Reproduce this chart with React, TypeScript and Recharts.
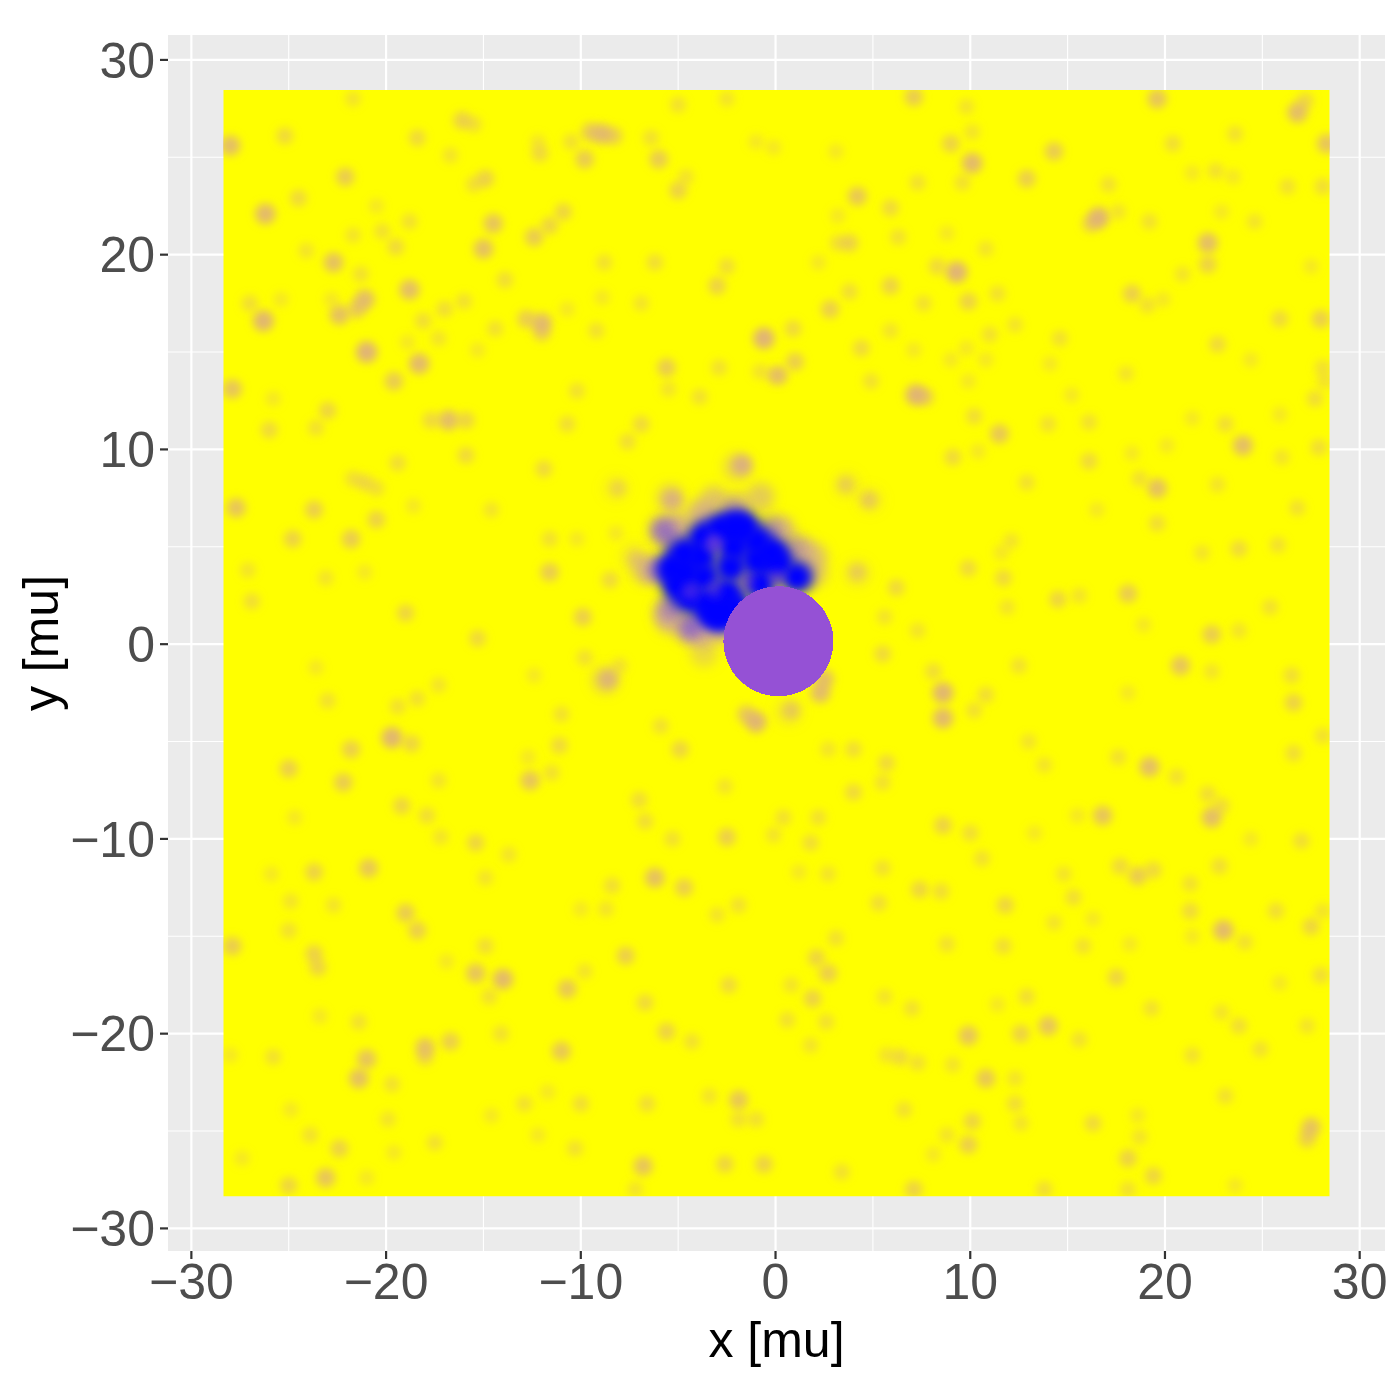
import { ScatterChart, Scatter, XAxis, YAxis, CartesianGrid, ReferenceArea } from 'recharts';

type Spot = [number, number, number];

const majorTicks = [-30, -20, -10, 0, 10, 20, 30];
const minorTicks = [-25, -15, -5, 5, 15, 25];

// x [mu], y [mu], strength
const spotsNorthWest: Spot[] = [
    [-28, 25.6, 0.8], [-8.9, 26.2, 0.8], [-9.5, 26.3, 0.6], [-8.3, 26.1, 0.5], [-16.1, 26.9, 0.5], [-15.5, 26.7, 0.3],
    [-21.7, 28, 0.25], [-25.2, 26.1, 0.4], [-18.4, 26, 0.4], [-12.1, 25.2, 0.4], [-12.2, 25.8, 0.2], [-9.8, 24.9, 0.6],
    [-10.5, 25.8, 0.3], [-6, 24.9, 0.6], [-6.4, 26, 0.3], [-16.7, 25.1, 0.25], [-22.1, 24, 0.6], [-14.9, 23.9, 0.5],
    [-15.5, 23.6, 0.3], [-5, 23.3, 0.5], [-4.6, 24, 0.25], [-2.5, 28, 0.25], [-5, 27.7, 0.3], [-1, 25.8, 0.2],
    [-0.1, 25.5, 0.2], [-24.5, 22.9, 0.4], [-26.2, 22.1, 0.85], [-20.5, 22.5, 0.2], [-18.8, 21.7, 0.3], [-14.5, 21.6, 0.7],
    [-10.9, 22.2, 0.45], [-11.6, 21.5, 0.45], [-12.4, 20.9, 0.6], [-20.2, 21.2, 0.3], [-19.5, 20.4, 0.4], [-21.7, 21, 0.25],
    [-15, 20.3, 0.75], [-24.1, 20.2, 0.25], [-22.7, 19.6, 0.75], [-21.3, 19, 0.3], [-21.1, 17.7, 0.8], [-21.5, 17.2, 0.6],
    [-22.4, 16.9, 0.75], [-22.8, 17.7, 0.2], [-18.8, 18.2, 0.8], [-13.9, 18.7, 0.35], [-8.8, 19.6, 0.3], [-6.2, 19.6, 0.35],
    [-2.5, 19.4, 0.35], [-3, 18.4, 0.5], [-6.9, 17.5, 0.25], [-8.9, 17.8, 0.2], [-10.7, 17.2, 0.2], [-16, 17.6, 0.3],
    [-17, 17.2, 0.35], [-18.1, 16.6, 0.35], [-17.3, 15.7, 0.25], [-26.3, 16.6, 0.9], [-27, 17.5, 0.35], [-25.4, 17.7, 0.2],
    [-12.8, 16.7, 0.55], [-12, 16.5, 0.8], [-12, 16, 0.5], [-14.4, 16.2, 0.3], [-9.2, 16.1, 0.3], [-0.6, 15.7, 0.95],
    [0, 13.8, 0.5], [-0.8, 14, 0.25], [-5.6, 14.2, 0.6], [-5.5, 13.1, 0.25], [-2.9, 14.2, 0.3], [-21, 15, 0.95],
    [-18.3, 14.4, 0.85], [-18.9, 15.5, 0.2], [-15.3, 15.1, 0.2], [-19.6, 13.5, 0.6], [-27.9, 13.1, 0.7], [-25.8, 12.6, 0.2],
    [-10.2, 13, 0.3], [-3.9, 12.7, 0.3], [-23, 12, 0.45], [-23.6, 11.1, 0.3], [-26, 11, 0.4], [-16.8, 11.5, 0.8],
    [-15.9, 11.5, 0.45], [-17.7, 11.5, 0.4], [-10.7, 11.3, 0.35], [-6.9, 11.3, 0.4], [-7.6, 10.4, 0.35], [-15.9, 9.7, 0.4],
    [-19.4, 9.3, 0.35], [-11.9, 9, 0.4], [-1.7, 9.2, 0.8], [-21.1, 8.3, 0.4], [-21.7, 8.5, 0.3], [-20.5, 8, 0.3],
    [-8.1, 8, 0.35], [-5.3, 7.4, 0.7], [-27.7, 7, 0.7], [-23.7, 6.9, 0.55], [-20.5, 6.4, 0.5], [-18.6, 7.1, 0.2],
    [-14.6, 6.9, 0.25], [-24.8, 5.4, 0.5], [-21.8, 5.4, 0.6], [-11.6, 5.4, 0.3], [-10.2, 5.4, 0.2], [-27.1, 3.8, 0.25],
    [-23.1, 3.4, 0.25], [-21.1, 3.7, 0.2], [-11.6, 3.7, 0.6], [-8.5, 3.3, 0.4], [-26.9, 2.2, 0.35], [-19, 1.6, 0.45],
    [-9.9, 1.4, 0.55], [-15.3, 0.3, 0.4], [-8.2, 5.7, 0.2], [-7.2, 4.4, 0.35],
];

const spotsNorthEast: Spot[] = [
    [7.1, 28.1, 0.6], [19.6, 28, 0.7], [26.8, 27.3, 0.8], [27.2, 27.9, 0.4], [9.8, 27.6, 0.25], [9, 25.7, 0.5],
    [10.1, 26.3, 0.25], [28.3, 25.7, 0.7], [14.3, 25.3, 0.6], [20.4, 25.7, 0.35], [23.6, 26.2, 0.3], [3.1, 25.3, 0.2],
    [10.1, 24.7, 0.85], [9.6, 23.7, 0.3], [12.9, 23.9, 0.55], [7.3, 23.7, 0.3], [4.2, 23, 0.65], [17.1, 23.6, 0.3],
    [22.6, 24.3, 0.3], [21.4, 24.2, 0.2], [23.5, 24, 0.2], [26.3, 23.5, 0.3], [28.1, 23.5, 0.35], [5.9, 22.4, 0.4],
    [16.6, 21.9, 0.9], [17.6, 22.2, 0.25], [16.2, 21.6, 0.5], [19.2, 21.7, 0.3], [22.9, 22.2, 0.2], [24.6, 21.7, 0.25],
    [3.2, 22, 0.2], [3.8, 20.6, 0.5], [3.2, 20.6, 0.3], [6.3, 20.9, 0.3], [8.8, 21.1, 0.2], [10.8, 20.3, 0.25],
    [2.2, 19.6, 0.2], [9.3, 19.1, 0.95], [8.3, 19.4, 0.4], [22.2, 20.6, 0.8], [22.2, 19.5, 0.5], [27.5, 19.4, 0.2],
    [20.9, 19, 0.25], [5.9, 18.4, 0.5], [3.8, 18.1, 0.35], [9.9, 17.6, 0.5], [11.4, 18, 0.3], [18.3, 18, 0.55],
    [19.1, 17.4, 0.3], [19.9, 17.7, 0.2], [2.8, 17.2, 0.55], [7.6, 17.5, 0.3], [0.9, 16.2, 0.4], [5.9, 16.1, 0.25],
    [11, 15.9, 0.3], [12.3, 16.4, 0.25], [25.9, 16.7, 0.4], [28, 16.7, 0.55], [4.4, 15.2, 0.4], [7.1, 15.1, 0.2],
    [14.6, 15.7, 0.3], [22.7, 15.4, 0.4], [1, 14.5, 0.55], [0.2, 13.8, 0.5], [9.8, 15.2, 0.2], [9, 14.6, 0.2],
    [10.8, 14.6, 0.2], [14.1, 14.4, 0.2], [4.9, 13.5, 0.3], [18, 13.9, 0.25], [28.1, 14.2, 0.3], [27.7, 12.6, 0.35],
    [28.2, 13.5, 0.25], [24.4, 14.6, 0.2], [7.2, 12.8, 0.9], [7.7, 12.7, 0.5], [9.9, 13.5, 0.2], [15.2, 12.8, 0.2],
    [10.2, 11.7, 0.35], [25.9, 11.8, 0.2], [14, 11.3, 0.3], [16.1, 11.4, 0.3], [11.5, 10.8, 0.65], [23.1, 11.3, 0.35],
    [24, 10.2, 0.8], [21.4, 11.6, 0.2], [27.9, 10.1, 0.35], [26, 9.6, 0.25], [9.1, 9.6, 0.4], [10.4, 9.9, 0.2],
    [16.1, 9.4, 0.4], [20.1, 10.2, 0.2], [18.3, 9.8, 0.2], [12.9, 8.3, 0.3], [3.6, 8.2, 0.4], [19.6, 8, 0.75],
    [18.7, 8.5, 0.3], [22.7, 8.2, 0.25], [4.8, 7.4, 0.5], [19.6, 6.2, 0.35], [26.8, 7, 0.3], [16.5, 6.9, 0.2],
    [12.1, 5.3, 0.25], [11.6, 4.7, 0.2], [23.8, 4.9, 0.4], [25.8, 5.1, 0.3], [21.9, 4.7, 0.25], [9.9, 3.9, 0.4],
    [4.2, 3.7, 0.4], [11.7, 3.4, 0.4], [6.2, 2.9, 0.4], [18.1, 2.6, 0.6], [14.5, 2.3, 0.45], [15.6, 2.5, 0.25],
    [11.9, 1.9, 0.25], [22.4, 0.5, 0.6], [23.8, 0.7, 0.25], [5.6, 1.4, 0.25], [7.3, 0.7, 0.25], [25.4, 1.9, 0.3],
    [18.9, 1, 0.2],
];

const spotsSouthWest: Spot[] = [
    [-9.8, -0.7, 0.3], [-8.6, -1.8, 0.65], [-8, -1.1, 0.25], [-11, -3.6, 0.3], [-12.4, -1.6, 0.2], [-1, -4, 0.9],
    [-1.5, -3.6, 0.6], [-5.9, -4.2, 0.3], [-4.9, -5.4, 0.45], [-23, -2.9, 0.3], [-18.4, -2.8, 0.3], [-17.3, -2.1, 0.25],
    [-19.4, -3.2, 0.3], [-23.6, -1.2, 0.2], [-19.7, -4.8, 0.9], [-18.7, -5.1, 0.45], [-21.8, -5.4, 0.55], [-11.1, -5.2, 0.4],
    [-25, -6.4, 0.55], [-22.2, -7.1, 0.6], [-12.6, -7, 0.7], [-11.5, -6.6, 0.3], [-12.7, -5.8, 0.2], [-17.3, -7, 0.25],
    [-2.6, -7.3, 0.25], [-7, -8, 0.35], [-6.7, -9.1, 0.35], [-19.2, -8.3, 0.45], [-17.9, -8.8, 0.35], [-24.7, -8.9, 0.2],
    [-2.5, -9.9, 0.55], [-0.1, -9.8, 0.25], [-15.4, -10.2, 0.45], [-17.2, -9.9, 0.25], [-13.7, -10.8, 0.25], [-5.3, -10, 0.3],
    [-20.9, -11.5, 0.65], [-23.7, -11.7, 0.5], [-25.9, -11.8, 0.2], [-6.2, -12, 0.75], [-4.7, -12.5, 0.55], [-8.4, -12.4, 0.35],
    [-14.9, -12, 0.25], [-1.9, -13.4, 0.3], [-3, -13.9, 0.25], [-19, -13.8, 0.6], [-18.4, -14.7, 0.55], [-24.9, -13.2, 0.25],
    [-22.7, -13.4, 0.25], [-25, -14.7, 0.3], [-27.9, -15.5, 0.6], [-10, -13.6, 0.2], [-8.7, -13.6, 0.25], [-23.7, -15.9, 0.5],
    [-23.5, -16.6, 0.45], [-14.9, -15.5, 0.35], [-7.7, -16, 0.55], [-16.9, -16.3, 0.2], [-15.4, -16.9, 0.7], [-14, -17.2, 0.85],
    [-14.7, -18.1, 0.3], [-10.7, -17.7, 0.65], [-2.4, -17.5, 0.4], [-9.8, -16.8, 0.25], [-6.7, -18.4, 0.4], [-5.6, -19.9, 0.5],
    [-4.3, -20.4, 0.3], [-23.4, -19.1, 0.2], [-21.4, -19.4, 0.3], [-14.1, -20, 0.3], [-18, -20.7, 0.7], [-18, -21.2, 0.4],
    [-16.7, -20.4, 0.55], [-11, -20.9, 0.65], [-21, -21.3, 0.7], [-21.4, -22.3, 0.75], [-25.8, -21.2, 0.3], [-19.7, -22.6, 0.3],
    [-28, -21.1, 0.2], [-1.9, -23.4, 0.65], [-1.9, -24.4, 0.3], [-1, -24.4, 0.3], [-10, -23.6, 0.35], [-6.6, -23.6, 0.35],
    [-12.9, -23.6, 0.3], [-11.7, -23, 0.2], [-3.4, -23.2, 0.25], [-24.9, -23.9, 0.2], [-19.9, -24.4, 0.25], [-14.6, -24.2, 0.2],
    [-22.4, -25.9, 0.5], [-23.9, -25.2, 0.3], [-17.5, -25.6, 0.3], [-12.2, -25.2, 0.2], [-6.8, -26.8, 0.7], [-7.2, -28, 0.25],
    [-10.3, -25.9, 0.3], [-2.6, -26.7, 0.45], [-0.6, -26.7, 0.5], [-23.1, -27.4, 0.7], [-25, -27.8, 0.45], [-27.4, -26.4, 0.2],
    [-21, -27.4, 0.2], [-19.6, -26.1, 0.2],
];

const spotsSouthEast: Spot[] = [
    [2.3, -2.5, 0.8], [2.5, -1.8, 0.75], [0.8, -3.4, 0.45], [5.5, -0.5, 0.4], [8.6, -2.5, 0.9], [8.6, -3.8, 0.85],
    [8.1, -1.4, 0.35], [10.8, -2.6, 0.35], [10.2, -3.4, 0.3], [12.5, -1.1, 0.3], [20.8, -1.1, 0.7], [26.5, -1.6, 0.35],
    [26.6, -3, 0.5], [22.4, -1.4, 0.25], [18.1, -2.5, 0.2], [4, -5.4, 0.35], [2.7, -5.4, 0.25], [5.7, -6.1, 0.4],
    [19.2, -6.3, 0.8], [17.6, -5.8, 0.3], [20.6, -6.8, 0.3], [26.6, -5.6, 0.35], [28.1, -4.7, 0.3], [4, -7.6, 0.4],
    [5.5, -7.1, 0.3], [13.8, -6.2, 0.25], [13, -5, 0.25], [2.2, -8.9, 0.3], [0.4, -8.9, 0.3], [16.8, -8.8, 0.7],
    [15.5, -8.8, 0.2], [22.4, -8.9, 0.8], [22.2, -7.7, 0.35], [22.9, -8.3, 0.35], [8.6, -9.3, 0.5], [10, -9.7, 0.35],
    [10.6, -11, 0.3], [1.8, -10.2, 0.35], [27, -10.1, 0.35], [24.4, -10, 0.2], [13.3, -9.7, 0.2], [17.7, -11.4, 0.4],
    [18.6, -11.9, 0.6], [19.4, -11.6, 0.4], [22.8, -11.4, 0.35], [21.3, -12.3, 0.3], [21.3, -13.7, 0.4], [21.4, -15, 0.2],
    [5.5, -11.5, 0.3], [2.7, -11.8, 0.25], [1.2, -11.7, 0.2], [7.4, -12.6, 0.45], [8.5, -12.7, 0.35], [14.8, -11.8, 0.25],
    [11.8, -13.4, 0.45], [15.3, -13, 0.35], [5.3, -13.3, 0.35], [25.7, -13.7, 0.35], [23, -14.7, 0.85], [24.1, -15.3, 0.3],
    [27.5, -14.5, 0.45], [28.1, -13.7, 0.25], [14.3, -14.3, 0.25], [16.3, -14.1, 0.2], [3.1, -15.1, 0.3], [8.8, -15.4, 0.3],
    [11.7, -15.5, 0.35], [15.8, -15.5, 0.3], [18.2, -15.4, 0.2], [2.1, -16.1, 0.45], [2.7, -16.9, 0.55], [17.5, -17.1, 0.45],
    [28, -17, 0.35], [25.9, -17.4, 0.2], [1.9, -18.2, 0.5], [0.8, -17.5, 0.25], [5.6, -18.1, 0.25], [12.9, -18.1, 0.35],
    [7, -18.7, 0.3], [11.4, -18.5, 0.2], [19.3, -18.7, 0.3], [22.9, -18.9, 0.25], [0.6, -19.3, 0.3], [2.6, -19.4, 0.3],
    [14, -19.6, 0.7], [12.6, -20, 0.5], [9.9, -20.1, 0.7], [15.6, -20.3, 0.3], [23.8, -19.6, 0.35], [27.3, -19.6, 0.25],
    [24.9, -20.8, 0.3], [1.8, -20.6, 0.25], [6.4, -21.2, 0.4], [7.3, -21.5, 0.3], [5.7, -21.1, 0.25], [21.4, -21.1, 0.3],
    [9.1, -21.6, 0.25], [10.8, -22.3, 0.65], [12.3, -22.3, 0.25], [12.3, -23.6, 0.35], [23.1, -23.2, 0.3], [6.6, -23.9, 0.3],
    [10.1, -24.5, 0.45], [8.8, -25.2, 0.25], [9.9, -25.7, 0.55], [16.3, -24.6, 0.4], [18.7, -25.3, 0.25], [27.5, -24.8, 0.7],
    [27.3, -25.4, 0.5], [18.6, -24.2, 0.2], [12.6, -24.6, 0.25], [18.1, -26.4, 0.5], [19.4, -27.3, 0.45], [8.1, -26.2, 0.2],
    [3.4, -27.1, 0.3], [7.1, -28, 0.5], [13.8, -28, 0.35], [18.1, -28, 0.3], [23.6, -27.8, 0.2],
];

const haloSpots: Spot[] = [
    [-5.75, 5.85, 0.8], [-4.37, 0.72, 0.85], [-5.56, 1.6, 0.7], [-6.34, 3.8, 0.7], [-3.17, 7.4, 0.55], [-0.77, 7.57, 0.5],
    [-1.97, 7.06, 0.55], [-5.4, 7.5, 0.45], [-1.97, 9.1, 0.4], [1.28, 4.83, 0.65], [1.97, 4.5, 0.55], [1.97, 3.63, 0.5],
    [-3.68, 0.55, 0.65], [-3.68, -0.47, 0.35], [-7.28, 4.5, 0.2], [-6.76, 3.8, 0.35], [-5, 6.03, 0.7], [-3.85, 6.7, 0.7],
    [0.26, 5.86, 0.7], [-5.4, 1.2, 0.55], [-3, 1, 0.6], [-2.5, 0.7, 0.55], [-8.73, -1.85, 0.4], [4.88, 7.4, 0.12],
    [3.68, 8.17, 0.15], [-8.2, 8, 0.12], [0.69, -3.47, 0.2], [4.2, 3.63, 0.2],
];

const purpleSpots: Spot[] = [
    [-5.75, 5.85, 0.55], [-4.37, 0.9, 0.6], [-5.4, 1.9, 0.4], [-5.9, 3.8, 0.55], [-5.3, 5.1, 0.4], [-3.4, 1.4, 0.4],
    [0.9, 5, 0.3], [-0.3, 6, 0.35], [-2.2, 6.85, 0.35],
];

const coreSpots: Spot[] = [
    [-5.3, 3.9, 1], [-5, 3, 1], [-4.7, 4.65, 1], [-4.7, 3.65, 1], [-4.4, 2.4, 1], [-3.7, 5.5, 1], [-3.85, 4.5, 1],
    [-3.7, 3.45, 1], [-3.5, 2.1, 1], [-2.85, 5.9, 1], [-2.15, 6, 1], [-1.65, 6, 1], [-2.15, 5, 1], [-2.3, 3.95, 1],
    [-0.95, 5.3, 1], [-0.95, 4.3, 1], [-0.2, 4.7, 1], [0.1, 4.15, 1], [1.1, 3.45, 1], [-2.5, 2.6, 1], [-2.75, 1.5, 1],
    [-2.15, 1.9, 1], [-0.8, 3.1, 1], [-3.15, 1.6, 1],
];

const holeSpots: Spot[] = [
    [-3.17, 5.2, 0.65], [-4.37, 2.7, 0.45], [-3.17, 2.8, 0.3], [-1.45, 3.2, 0.35], [0.08, 3.4, 0.4],
];

const maskCentre = [{ x: 0.15, y: 0.15 }];

const toRows = (spots: Spot[]) => spots.map(([x, y, z]) => ({ x, y, z }));

const fieldSpots = [...spotsNorthWest, ...spotsNorthEast, ...spotsSouthWest, ...spotsSouthEast];

const fontFamily = '"Liberation Sans", Arial, sans-serif';

// soft round blob, clipped to the raster
const blurred = (fill: string, r: number, gain: number, blur: string, base: number, slope: number) => (props: any) => {
    const { cx, cy, payload } = props;
    return (
        <g clipPath="url(#fieldClip)">
            <circle cx={cx} cy={cy} r={r + gain * payload.z} fill={fill} fillOpacity={Math.min(1, base + slope * payload.z)} filter={blur} />
        </g>
    );
};

const MaskDot = (props: any) => (
    <circle cx={props.cx} cy={props.cy} r={55} fill="#9551D5" shapeRendering="crispEdges" />
);

const YTitle = ({ viewBox }: any) => {
    const cx = viewBox.x + 3;
    const cy = viewBox.y + viewBox.height / 2;
    return (
        <text x={cx} y={cy} transform={`rotate(-90 ${cx} ${cy})`} textAnchor="middle" dominantBaseline="central" fill="#000000" fontSize={50} fontFamily={fontFamily}>
            y [mu]
        </text>
    );
};

export default function App() {
    return (
        <div style={{ position: 'absolute', left: 0, top: 0, width: 1400, height: 1400, background: '#fff' }}>
            <ScatterChart width={1400} height={1400} margin={{ top: 35, right: 15, bottom: 30, left: 38 }}>
                <defs>
                    <filter id="softSpot" x="-150%" y="-150%" width="400%" height="400%">
                        <feGaussianBlur stdDeviation="4.4" />
                    </filter>
                    <filter id="softCore" x="-150%" y="-150%" width="400%" height="400%">
                        <feGaussianBlur stdDeviation="6" />
                    </filter>
                    <clipPath id="fieldClip">
                        <rect x={223} y={90} width={1107} height={1106} />
                    </clipPath>
                </defs>
                <CartesianGrid
                    fill="#EBEBEB"
                    stroke="#FFFFFF"
                    strokeWidth={1.1}
                    verticalValues={minorTicks}
                    horizontalValues={minorTicks}
                />
                <CartesianGrid
                    stroke="#FFFFFF"
                    strokeWidth={2.2}
                    verticalValues={majorTicks}
                    horizontalValues={majorTicks}
                />
                <XAxis
                    type="number"
                    dataKey="x"
                    domain={[-31.2, 31.3]}
                    ticks={majorTicks}
                    interval={0}
                    allowDataOverflow
                    height={119}
                    axisLine={false}
                    tickSize={8}
                    tickMargin={4}
                    tickLine={{ stroke: '#333333', strokeWidth: 2.2 }}
                    tick={{ fill: '#4D4D4D', fontSize: 50, fontFamily }}
                    tickFormatter={(v: number) => String(v).replace('-', '\u2212')}
                    label={{ value: 'x [mu]', position: 'insideBottom', offset: 13, fill: '#000000', fontSize: 50, fontFamily }}
                />
                <YAxis
                    type="number"
                    dataKey="y"
                    domain={[-31.16, 31.28]}
                    ticks={majorTicks}
                    interval={0}
                    allowDataOverflow
                    width={130}
                    axisLine={false}
                    tickSize={8}
                    tickMargin={5}
                    tickLine={{ stroke: '#333333', strokeWidth: 2.2 }}
                    tick={{ fill: '#4D4D4D', fontSize: 50, fontFamily }}
                    tickFormatter={(v: number) => String(v).replace('-', '\u2212')}
                    label={{ content: YTitle }}
                />
                <ReferenceArea x1={-28.35} x2={28.45} y1={-28.35} y2={28.45} fill="#FFFF00" fillOpacity={1} stroke="none" />
                <Scatter data={toRows(fieldSpots)} isAnimationActive={false} shape={blurred('#DCA888', 7, 4, 'url(#softSpot)', 0.14, 0.75)} />
                <Scatter data={toRows(haloSpots)} isAnimationActive={false} shape={blurred('#CC9CA4', 14, 0, 'url(#softCore)', 0, 1)} />
                <Scatter data={toRows(purpleSpots)} isAnimationActive={false} shape={blurred('#7048D8', 12, 0, 'url(#softCore)', 0, 1)} />
                <Scatter data={toRows(coreSpots)} isAnimationActive={false} shape={blurred('#0000FF', 16, 0, 'url(#softCore)', 0, 1)} />
                <Scatter data={toRows(holeSpots)} isAnimationActive={false} shape={blurred('#7A40D8', 9, 0, 'url(#softSpot)', 0, 1)} />
                <Scatter data={maskCentre} isAnimationActive={false} shape={MaskDot} />
            </ScatterChart>
        </div>
    );
}
